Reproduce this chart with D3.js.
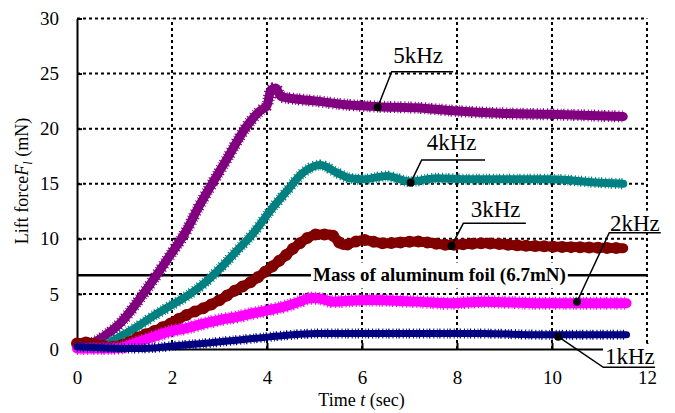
<!DOCTYPE html>
<html>
<head>
<meta charset="utf-8">
<script src="https://cdn.jsdelivr.net/npm/d3@7/dist/d3.min.js"></script>
<style>
  html, body { margin: 0; padding: 0; background: #fff; }
  svg { display: block; }
  text { font-family: "Liberation Serif", "Times New Roman", serif; fill: #000; }
</style>
</head>
<body>
<svg id="chart" width="675" height="413"></svg>
<script>
// Lift force over time for five drive frequencies, [time (s), force (mN)]
const khz5 = [[0,0.3],[0.2,0.4],[0.4,0.7],[0.55,1.1],[0.9,2.3],[1.26,4.2],[1.61,6.3],[1.96,8.5],[2.31,10.8],[2.55,12.8],[3.15,17.2],[3.57,20.2],[3.85,21.6],[4.0,22.1],[4.08,23.5],[4.18,23.7],[4.3,22.9],[4.6,22.7],[5.05,22.5],[5.6,22.2],[6.33,22.0],[7.15,21.9],[8.0,21.6],[8.9,21.4],[9.96,21.3],[10.8,21.2],[11.5,21.1]];
const khz4 = [[0,0.2],[0.55,0.35],[0.9,1.1],[1.26,2.0],[1.61,3.0],[1.96,3.9],[2.31,4.8],[2.66,5.9],[3.01,7.3],[3.36,8.9],[3.71,10.5],[4.06,12.5],[4.41,14.3],[4.76,16.0],[5.12,16.7],[5.47,16.0],[5.75,15.5],[6.03,15.4],[6.52,15.7],[7.01,15.2],[7.57,15.5],[8.27,15.4],[9.0,15.4],[9.96,15.4],[11.0,15.1],[11.5,15.0]];
const khz3 = [[0,0.5],[0.2,0.6],[0.4,0.4],[0.7,0.2],[1.05,0.5],[1.26,1.0],[1.61,1.6],[1.96,2.3],[2.31,3.1],[2.66,3.7],[3.01,4.45],[3.36,5.4],[3.67,6.1],[3.99,7.1],[4.34,8.3],[4.69,9.6],[5.05,10.4],[5.33,10.4],[5.61,9.45],[6.03,9.9],[6.45,9.6],[7.15,9.75],[7.85,9.45],[8.55,9.6],[9.3,9.4],[9.96,9.3],[11.5,9.15]];
const khz2 = [[0,0.05],[0.5,0.05],[0.9,0.1],[1.2,0.5],[1.61,1.1],[1.96,1.6],[2.31,1.9],[2.66,2.3],[3.01,2.65],[3.36,2.9],[3.71,3.25],[4.06,3.55],[4.41,3.9],[4.69,4.3],[4.9,4.6],[5.05,4.6],[5.4,4.3],[6.1,4.45],[7.15,4.3],[7.85,4.15],[8.55,4.3],[9.75,4.15],[11.57,4.15]];
const khz1 = [[0,0.2],[0.6,0.1],[1.2,0.05],[1.6,0.1],[1.96,0.25],[2.66,0.5],[3.36,0.8],[4.06,1.1],[4.41,1.25],[5.05,1.4],[6.45,1.4],[8.55,1.4],[9.75,1.3],[11.57,1.3]];

const seriesNames = ["5kHz", "4kHz", "3kHz", "2kHz", "1kHz"];
const seriesData = [khz5, khz4, khz3, khz2, khz1];

// Reference level: mass of the aluminum foil
const foilMass = 6.7;
const foilLabel = "Mass of aluminum foil (6.7mN)";

const xTicks = [0, 2, 4, 6, 8, 10, 12];
const yTicks = [0, 5, 10, 15, 20, 25, 30];

// Callout anchors per series: point on the curve and elbow, in data units
const calloutDot   = [[6.33, 21.95], [7.025, 15.1], [7.884, 9.35], [10.526, 4.29], [10.13, 1.12]];
const calloutElbow = [[6.625, 25.17], [7.257, 17.16], [8.133, 11.41], [11.206, 10.56], [11.08, -1.66]];
const calloutEnd   = [7.92, 8.59, 9.45, 12.29, 12.17];

// ---- styling ----
const colors = ["#800080", "#008080", "#800000", "#ff00ff", "#000080"];
const widths = [9, 8, 10, 10, 7];
const textDx = [1.5, 5, 7.4, 0.7, 1.7];
const textDy = [-8.4, -10, -6.6, -2, -3.3];

const svg = d3.select("#chart");
const x = d3.scaleLinear().domain([0, 12]).range([77, 647]);
const y = d3.scaleLinear().domain([0, 30]).range([349, 18.5]);

// dotted grid
const grid = svg.append("g");
grid.selectAll("line.v").data(xTicks.filter(d => d > 0)).join("line")
  .attr("x1", d => x(d)).attr("x2", d => x(d))
  .attr("y1", y(0)).attr("y2", y(30))
  .attr("stroke", "#000").attr("stroke-width", 2).attr("stroke-dasharray", "3,3");
grid.selectAll("line.h").data(yTicks.filter(d => d > 0)).join("line")
  .attr("x1", x(0)).attr("x2", x(12))
  .attr("y1", d => y(d)).attr("y2", d => y(d))
  .attr("stroke", "#000").attr("stroke-width", 2).attr("stroke-dasharray", "3,3");

// foil mass reference line
svg.append("line")
  .attr("x1", x(0)).attr("x2", x(12))
  .attr("y1", y(foilMass)).attr("y2", y(foilMass))
  .attr("stroke", "#000").attr("stroke-width", 2.5);

// axes
const yAxis = d3.axisLeft(y).tickValues(yTicks).tickSizeInner(-5).tickSizeOuter(0).tickPadding(18);
const xAxis = d3.axisBottom(x).tickValues(xTicks).tickSizeInner(-6).tickSizeOuter(0).tickPadding(22);
const gy = svg.append("g").attr("transform", `translate(${x(0)},0)`).call(yAxis);
const gx = svg.append("g").attr("transform", `translate(0,${y(0)})`).call(xAxis);
[gy, gx].forEach(g => {
  g.select(".domain").attr("stroke", "#000").attr("stroke-width", 2);
  g.selectAll(".tick line").attr("stroke", "#000").attr("stroke-width", 2);
  g.selectAll(".tick text").attr("font-family", "Liberation Serif").attr("font-size", 19).attr("fill", "#000");
});

// series: thick trace plus a broken outer stroke for the ragged sampled look
const line = d3.line().x(d => x(d[0])).y(d => y(d[1])).curve(d3.curveMonotoneX);
const gs = svg.append("g");
seriesData.forEach((data, i) => {
  gs.append("path").attr("d", line(data))
    .attr("fill", "none").attr("stroke", colors[i]).attr("stroke-width", widths[i])
    .attr("stroke-linejoin", "round").attr("stroke-linecap", "round");
  if (i === 2) {
    gs.append("path").attr("d", line(data))
      .attr("fill", "none").attr("stroke", colors[i]).attr("stroke-width", widths[i] + 2)
      .attr("stroke-linecap", "round").attr("stroke-dasharray", "0,9");
  } else {
    gs.append("path").attr("d", line(data))
      .attr("fill", "none").attr("stroke", colors[i]).attr("stroke-width", widths[i] + 3)
      .attr("stroke-dasharray", "1,2.5,0.8,1.7,1.2,3");
  }
});

// foil label over a white box
const foilText = svg.append("text")
  .attr("x", 313).attr("y", y(foilMass)).attr("dy", "0.33em")
  .attr("font-size", 19).attr("font-weight", "bold").attr("fill", "#222")
  .text(foilLabel);
const fb = foilText.node().getBBox();
svg.insert("rect", () => foilText.node())
  .attr("x", fb.x - 2).attr("y", fb.y - 2).attr("width", fb.width + 4).attr("height", fb.height + 4)
  .attr("fill", "#fff");

// series callouts
seriesNames.forEach((name, i) => {
  const [dt, dv] = calloutDot[i];
  const [et, ev] = calloutElbow[i];
  const ex = x(et), ey = y(ev);
  const t = svg.append("text")
    .attr("x", ex + textDx[i]).attr("y", ey + textDy[i])
    .attr("font-size", 23).text(name);
  const b = t.node().getBBox();
  svg.insert("rect", () => t.node())
    .attr("x", b.x - 2).attr("y", b.y).attr("width", b.width + 4).attr("height", b.height - 3)
    .attr("fill", "#fff");
  svg.append("polyline")
    .attr("points", [[x(dt), y(dv)], [ex, ey], [x(calloutEnd[i]), ey]].map(p => p.join(",")).join(" "))
    .attr("fill", "none").attr("stroke", "#000").attr("stroke-width", 1.5);
  svg.append("circle").attr("cx", x(dt)).attr("cy", y(dv)).attr("r", 4).attr("fill", "#000");
});

// axis titles
const xt = svg.append("text").attr("x", 361.5).attr("y", 405.5).attr("text-anchor", "middle").attr("font-size", 18);
xt.append("tspan").text("Time ");
xt.append("tspan").attr("font-style", "italic").text("t");
xt.append("tspan").text(" (sec)");

const yt = svg.append("text").attr("transform", "translate(28,181) rotate(-90)")
  .attr("text-anchor", "middle").attr("font-size", 18);
yt.append("tspan").text("Lift force");
yt.append("tspan").attr("font-style", "italic").text("F");
yt.append("tspan").attr("font-style", "italic").attr("font-size", 12).attr("dy", 4).text("l");
yt.append("tspan").attr("dy", -4).text(" (mN)");
</script>
</body>
</html>
